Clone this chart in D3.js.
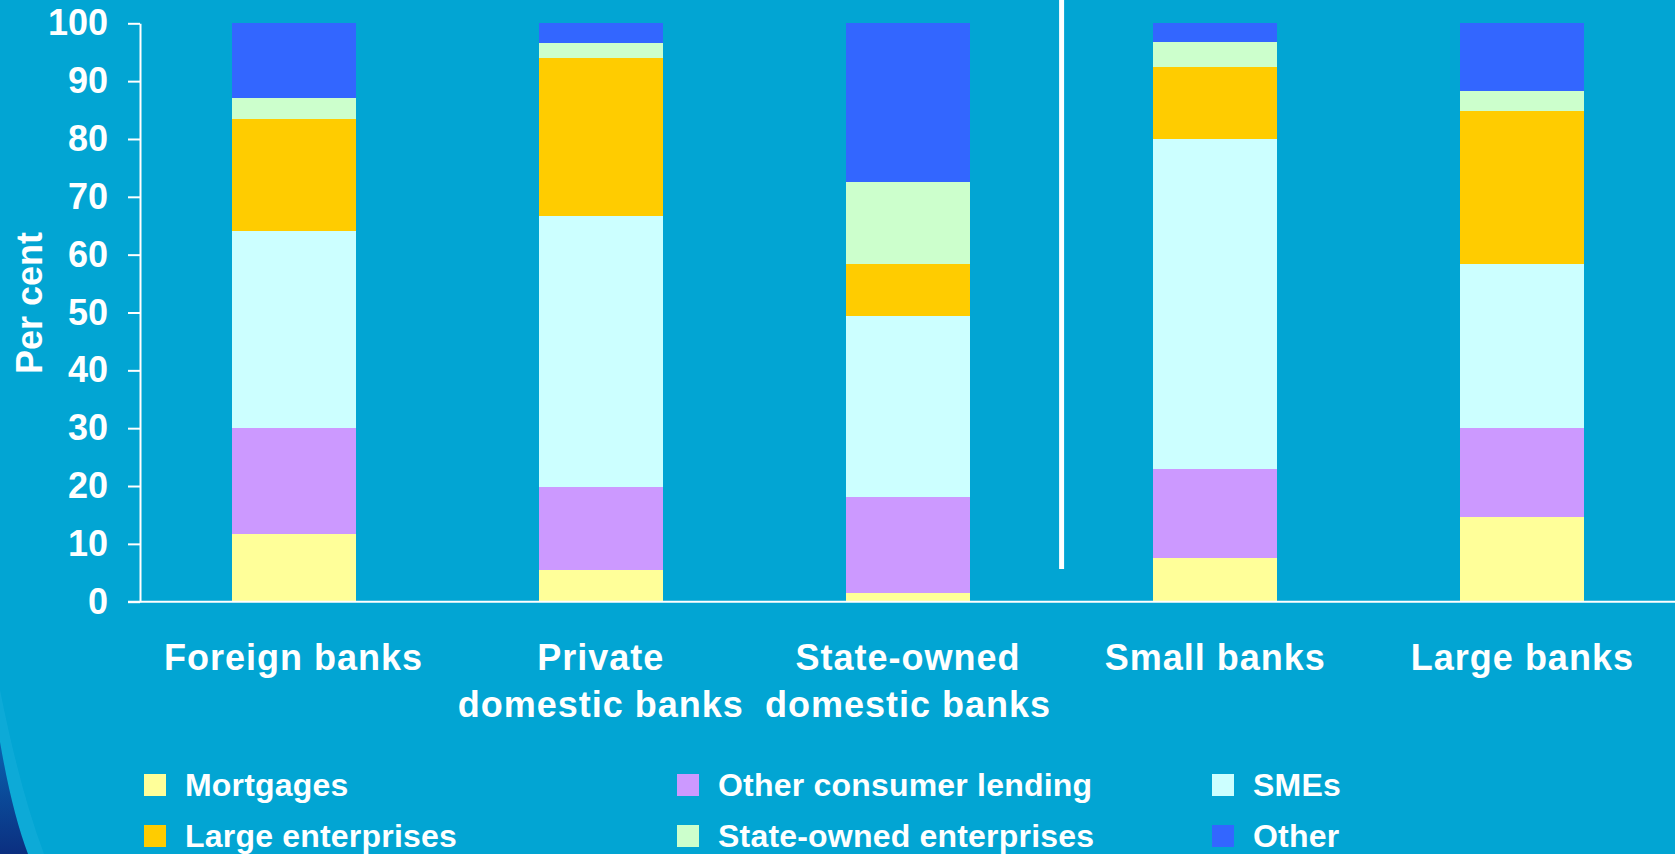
<!DOCTYPE html>
<html>
<head>
<meta charset="utf-8">
<script src="https://cdn.jsdelivr.net/npm/d3@7/dist/d3.min.js"></script>
<style>
  html, body { margin: 0; padding: 0; background: #02a5d3; overflow: hidden; }
  svg { display: block; }
  text { font-family: "Liberation Sans", Arial, Helvetica, sans-serif; font-weight: bold; fill: #ffffff; }
</style>
</head>
<body>
<svg id="chart" width="1675" height="854"></svg>
<script>
// ---- data ----
const categories = ["Foreign banks", "Private domestic banks", "State-owned domestic banks", "Small banks", "Large banks"];
const categoryLines = [["Foreign banks"], ["Private", "domestic banks"], ["State-owned", "domestic banks"], ["Small banks"], ["Large banks"]];
const seriesNames = ["Mortgages", "Other consumer lending", "SMEs", "Large enterprises", "State-owned enterprises", "Other"];
const mortgages       = [11.7, 5.5, 1.5, 7.55, 14.65];
const otherConsumer   = [18.4, 14.3, 16.6, 15.35, 15.35];
const smes            = [34.0, 46.9, 31.3, 57.1, 28.4];
const largeEnterprises= [19.35, 27.3, 9.0, 12.4, 26.45];
const stateOwnedEnt   = [3.65, 2.6, 14.2, 4.4, 3.45];
const other           = [12.9, 3.4, 27.4, 3.2, 11.7];
const yTicks = [0, 10, 20, 30, 40, 50, 60, 70, 80, 90, 100];

// ---- styles ----
const colors = ["#ffff99", "#cc99ff", "#ccffff", "#ffcc00", "#ccffcc", "#3366ff"];
const seriesValues = [mortgages, otherConsumer, smes, largeEnterprises, stateOwnedEnt, other];

const rows = categories.map((c, i) => {
  const r = { category: c };
  seriesNames.forEach((s, j) => { r[s] = seriesValues[j][i]; });
  return r;
});

const svg = d3.select("#chart");

// background decoration (bottom-left swoosh)
const defs = svg.append("defs");
const grad = defs.append("linearGradient").attr("id", "swoosh").attr("x1", 0).attr("y1", 0).attr("x2", 0).attr("y2", 1);
grad.append("stop").attr("offset", "0%").attr("stop-color", "#0a63b0");
grad.append("stop").attr("offset", "100%").attr("stop-color", "#0b2f80");
svg.append("path")
  .attr("d", "M0,690 Q20,790 44,854 L28,854 Q12,812 0,742 Z")
  .attr("fill", "#12acd9").attr("opacity", 0.7);
svg.append("path")
  .attr("d", "M0,742 Q12,812 28,854 L0,854 Z")
  .attr("fill", "url(#swoosh)");

const x = d3.scaleBand()
  .domain(categories)
  .range([140, 1676])
  .paddingInner(0.596)
  .paddingOuter(0.298);

const y = d3.scaleLinear().domain([0, 100]).range([601.7, 23.3]);

const stack = d3.stack().keys(seriesNames);
const stacked = stack(rows);

// bars
svg.append("g").attr("shape-rendering", "crispEdges").selectAll("g")
  .data(stacked)
  .join("g")
  .attr("fill", (d, i) => colors[i])
  .selectAll("rect")
  .data(d => d)
  .join("rect")
  .attr("x", d => x(d.data.category))
  .attr("width", x.bandwidth())
  .attr("y", d => y(d[1]))
  .attr("height", d => y(d[0]) - y(d[1]));

// separator line between groups
const sepX = x(categories[3]) - x.step() * x.paddingInner() / 2;
svg.append("line")
  .attr("x1", sepX).attr("x2", sepX)
  .attr("y1", 0).attr("y2", 569)
  .attr("stroke", "#ffffff").attr("stroke-width", 5);

// y axis
const yAxis = d3.axisLeft(y).tickValues(yTicks).tickSize(12).tickSizeOuter(0).tickPadding(20);
const gy = svg.append("g").attr("transform", "translate(140,0)").call(yAxis);
gy.select(".domain").attr("stroke", "#ffffff").attr("stroke-width", 2);
gy.selectAll(".tick line").attr("stroke", "#ffffff").attr("stroke-width", 2);
gy.selectAll(".tick text")
  .attr("fill", "#ffffff")
  .style("font-family", '"Liberation Sans", Arial, sans-serif')
  .style("font-weight", "bold")
  .style("font-size", "36px");

// x axis baseline
svg.append("line")
  .attr("x1", 128).attr("x2", 1675)
  .attr("y1", y(0)).attr("y2", y(0))
  .attr("stroke", "#ffffff").attr("stroke-width", 2);

// y label
svg.append("text")
  .attr("transform", "translate(42,303) rotate(-90)")
  .attr("text-anchor", "middle")
  .style("font-size", "36px")
  .text("Per cent");

// x category labels
const xl = svg.append("g");
categories.forEach((c, i) => {
  const t = xl.append("text")
    .attr("x", x(c) + x.bandwidth() / 2)
    .attr("y", 670)
    .attr("text-anchor", "middle")
    .style("font-size", "36px")
    .style("letter-spacing", "1px");
  categoryLines[i].forEach((line, k) => {
    t.append("tspan")
      .attr("x", x(c) + x.bandwidth() / 2)
      .attr("dy", k === 0 ? 0 : 47)
      .text(line);
  });
});

// legend
const legendCols = [144, 677, 1212];
const legendRows = [774, 825];
const lg = svg.append("g");
seriesNames.forEach((s, i) => {
  const col = i % 3, row = Math.floor(i / 3);
  const gx = legendCols[col], gyy = legendRows[row];
  lg.append("rect").attr("x", gx).attr("y", gyy).attr("width", 22).attr("height", 22).attr("fill", colors[i]);
  lg.append("text")
    .attr("x", gx + 41).attr("y", gyy + 22)
    .style("font-size", "32px")
    .style("letter-spacing", "0.2px")
    .text(s);
});
</script>
</body>
</html>
